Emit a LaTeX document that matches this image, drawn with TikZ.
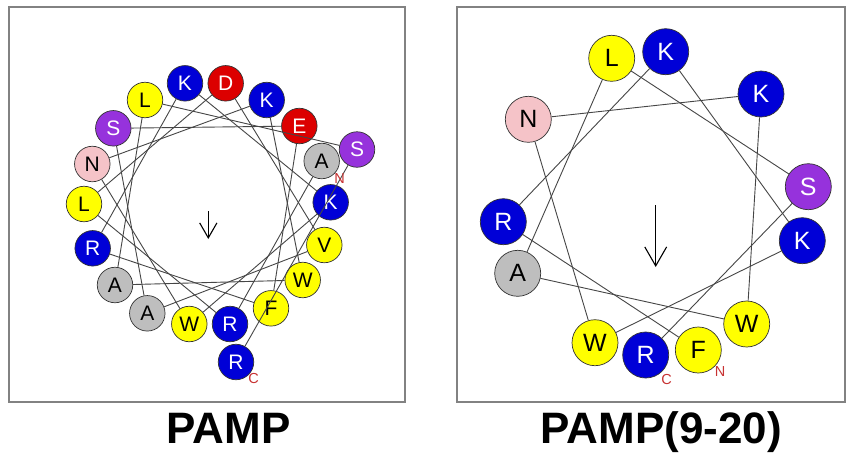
\documentclass[tikz,border=0pt]{standalone}
\usepackage{fontspec}
\setmainfont{Liberation Sans}
\usetikzlibrary{arrows.meta}
\definecolor{cblue}{RGB}{0,0,215}
\definecolor{cred}{RGB}{220,0,0}
\definecolor{cpurple}{RGB}{150,50,220}
\definecolor{cyellow}{RGB}{255,255,0}
\definecolor{cgray}{RGB}{190,190,190}
\definecolor{cpink}{RGB}{245,195,200}
\definecolor{frameg}{RGB}{130,130,130}
\definecolor{lineg}{RGB}{70,70,70}
\definecolor{termred}{RGB}{200,50,50}
\tikzset{
  res/.style={circle,draw=black!80,line width=0.7pt,inner sep=0pt},
  sres/.style={res,minimum size=35.5pt,font=\fontsize{21}{21}\selectfont},
  bres/.style={res,minimum size=46pt,font=\fontsize{25}{25}\selectfont},
  hb/.style={fill=cblue,text=white},
  hr/.style={fill=cred,text=white},
  hp/.style={fill=cpurple,text=white},
  hy/.style={fill=cyellow,text=black},
  hg/.style={fill=cgray,text=black},
  hk/.style={fill=cpink,text=black},
  wheel/.style={draw=lineg,line width=0.9pt},
  term/.style={text=termred,font=\fontsize{14.5}{14.5}\selectfont,inner sep=0pt},
  panel/.style={draw=frameg,line width=1.6pt},
  title/.style={font=\fontsize{44}{44}\selectfont\bfseries,anchor=base,inner sep=0pt},
  moment/.style={draw=black,line width=1.1pt,-{Straight Barb[length=#1,width=#1*1.15,line width=1.1pt]}}
}
\begin{document}
\begin{tikzpicture}[x=1pt,y=-1pt]
\useasboundingbox (0,0) rectangle (846,458);
\fill[white] (0,0) rectangle (846,458);
% panels
\draw[panel] (9,7) rectangle (405,402);
\draw[panel] (457,7) rectangle (845,402);
% ---------- PAMP (left wheel) ----------
\node[sres,hg] (a1)  at (321.7,161) {A};
\node[sres,hb] (a2)  at (230,324) {R};
\node[sres,hy] (a3)  at (84,204) {L};
\node[sres,hr] (a4)  at (225.7,83.3) {D};
\node[sres,hy] (a5)  at (324.3,245) {V};
\node[sres,hg] (a6)  at (147.3,313.3) {A};
\node[sres,hp] (a7)  at (113.3,128.3) {S};
\node[sres,hr] (a8)  at (299.3,126) {E};
\node[sres,hy] (a9)  at (271,308.3) {F};
\node[sres,hb] (a10) at (92.7,248.3) {R};
\node[sres,hb] (a11) at (185,83.3) {K};
\node[sres,hb] (a12) at (330.7,202.3) {K};
\node[sres,hy] (a13) at (189.3,324) {W};
\node[sres,hk] (a14) at (92.3,164) {N};
\node[sres,hb] (a15) at (266.7,100) {K};
\node[sres,hy] (a16) at (302.7,280) {W};
\node[sres,hg] (a17) at (115,285) {A};
\node[sres,hy] (a18) at (145,100) {L};
\node[sres,hp] (a19) at (357,149.5) {S};
\node[sres,hb] (a20) at (236,362) {R};
\foreach \i [evaluate=\i as \j using int(\i+1)] in {1,...,19}
  \draw[wheel] (a\i) -- (a\j);
\node[term] (an) at (339.5,178.5) {N};
\node[term] (ac) at (253.5,378.5) {C};
\coordinate (aarrs) at (208.3,211);
\coordinate (aarre) at (208.3,239);
\draw[moment=15pt] (aarrs) -- (aarre);
% ---------- PAMP(9-20) (right wheel) ----------
\node[bres,hy] (b9)  at (698.3,350) {F};
\node[bres,hb] (b10) at (503.3,221.7) {R};
\node[bres,hb] (b11) at (665.7,51.7) {K};
\node[bres,hb] (b12) at (802.3,240.7) {K};
\node[bres,hy] (b13) at (595,342.7) {W};
\node[bres,hk] (b14) at (528.3,119.3) {N};
\node[bres,hb] (b15) at (761,94) {K};
\node[bres,hy] (b16) at (746.7,324) {W};
\node[bres,hg] (b17) at (517.7,273.3) {A};
\node[bres,hy] (b18) at (611.7,58.3) {L};
\node[bres,hp] (b19) at (808.3,186.7) {S};
\node[bres,hb] (b20) at (645.7,355) {R};
\foreach \i [evaluate=\i as \j using int(\i+1)] in {9,...,19}
  \draw[wheel] (b\i) -- (b\j);
\node[term] (bn) at (720,372) {N};
\node[term] (bc) at (666.7,379.3) {C};
\coordinate (barrs) at (655.7,205);
\coordinate (barre) at (655.7,267);
\draw[moment=19pt] (barrs) -- (barre);
% titles
\node[title] (t1) at (228.5,443) {PAMP};
\node[title] (t2) at (661.5,443) {PAMP(9-20)};
\end{tikzpicture}
\end{document}
